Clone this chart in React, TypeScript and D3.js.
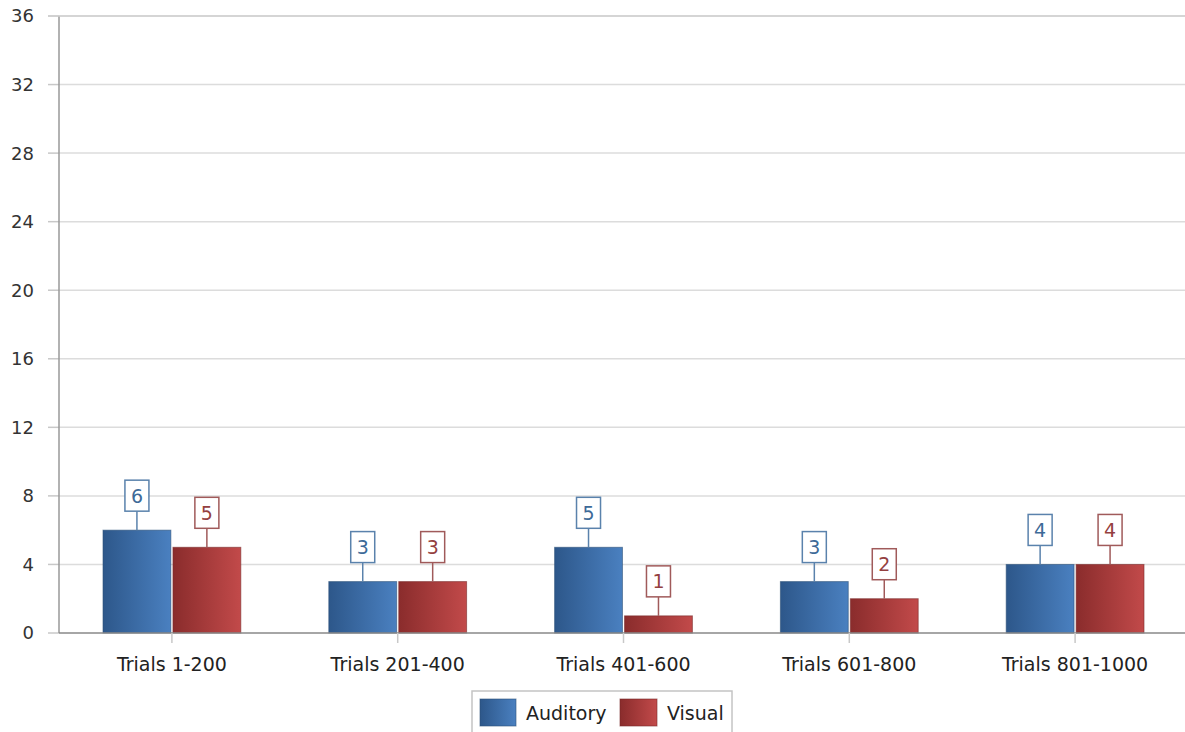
import { scaleBand, scaleLinear } from 'd3';

const categories = ['Trials 1-200', 'Trials 201-400', 'Trials 401-600', 'Trials 601-800', 'Trials 801-1000'];
const auditory = [6, 3, 5, 3, 4];
const visual = [5, 3, 1, 2, 4];
const yTicks = [0, 4, 8, 12, 16, 20, 24, 28, 32, 36];
const seriesNames = ['Auditory', 'Visual'];

const W = 1185, H = 732;
const left = 59, right = 1188, top = 16, bottom = 633;
const font = '"DejaVu Sans", Tahoma, sans-serif';

export default function App() {
  const x = scaleBand<string>().domain(categories).range([left, right]).paddingInner(0).paddingOuter(0);
  const y = scaleLinear().domain([0, 36]).range([bottom, top]);
  const inner = scaleBand<string>().domain(seriesNames).range([44, x.bandwidth() - 44]).paddingInner(0.03);

  const series = [
    { name: 'Auditory', values: auditory, grad: 'gBlue', stroke: '#2b5078', boxStroke: '#5a82ac', text: '#3d6a98' },
    { name: 'Visual', values: visual, grad: 'gRed', stroke: '#7a2a2a', boxStroke: '#a05a5a', text: '#944040' },
  ];

  return (
    <svg width={W} height={H} style={{ position: 'absolute', left: 0, top: 0, background: '#fff' }} fontFamily={font}>
      <defs>
        <linearGradient id="gBlue" x1="0" x2="1" y1="0" y2="0">
          <stop offset="0" stopColor="#2d578a" />
          <stop offset="1" stopColor="#4a80c0" />
        </linearGradient>
        <linearGradient id="gRed" x1="0" x2="1" y1="0" y2="0">
          <stop offset="0" stopColor="#8a2c2c" />
          <stop offset="1" stopColor="#c24a4a" />
        </linearGradient>
      </defs>

      {/* grid + y ticks */}
      {yTicks.map(t => (
        <g key={t}>
          {t > 0 && <line x1={left} x2={W} y1={y(t)} y2={y(t)} stroke="#dcdcdc" strokeWidth={1.5} />}
          <line x1={48} x2={left} y1={y(t)} y2={y(t)} stroke="#c8c8c8" strokeWidth={1.5} />
          <text x={34} y={y(t)} dy="0.36em" textAnchor="end" fontSize={18} fill="#333">{t}</text>
        </g>
      ))}

      {/* bars */}
      {series.map(s => s.values.map((v, i) => {
        const bx = (x(categories[i]) ?? 0) + (inner(s.name) ?? 0);
        const bw = inner.bandwidth();
        const cx = bx + bw / 2;
        const by = y(v);
        return (
          <g key={s.name + i}>
            <rect x={bx} y={by} width={bw} height={bottom - by} fill={`url(#${s.grad})`} stroke={s.stroke} strokeOpacity={0.6} strokeWidth={1} />
            <line x1={cx} x2={cx} y1={by} y2={by - 19} stroke={s.boxStroke} strokeWidth={1.5} />
            <rect x={cx - 12} y={by - 50} width={24} height={31} fill="#fff" stroke={s.boxStroke} strokeWidth={1.5} />
            <text x={cx} y={by - 34.5} dy="0.36em" textAnchor="middle" fontSize={19} fill={s.text}>{v}</text>
          </g>
        );
      }))}

      {/* axes */}
      <line x1={left} x2={left} y1={top} y2={bottom} stroke="#999" strokeWidth={1.5} />
      <line x1={48} x2={W} y1={top} y2={top} stroke="#cfcfcf" strokeWidth={1.5} />
      <line x1={left} x2={W} y1={bottom} y2={bottom} stroke="#888" strokeWidth={1.5} />
      {categories.map(c => {
        const cx = (x(c) ?? 0) + x.bandwidth() / 2;
        return (
          <g key={c}>
            <line x1={cx} x2={cx} y1={bottom} y2={bottom + 10} stroke="#c8c8c8" strokeWidth={1.5} />
            <text x={cx} y={671} textAnchor="middle" fontSize={19} fill="#222">{c}</text>
          </g>
        );
      })}

      {/* legend */}
      <rect x={472} y={691} width={260} height={50} fill="#fff" stroke="#c4c4c4" strokeWidth={1.5} />
      <rect x={480} y={699} width={36} height={27} fill="url(#gBlue)" stroke="#2b5078" strokeOpacity={0.6} />
      <text x={526} y={713} dy="0.36em" fontSize={19} fill="#222">Auditory</text>
      <rect x={620} y={699} width={37} height={27} fill="url(#gRed)" stroke="#7a2a2a" strokeOpacity={0.6} />
      <text x={667} y={713} dy="0.36em" fontSize={19} fill="#222">Visual</text>
    </svg>
  );
}
